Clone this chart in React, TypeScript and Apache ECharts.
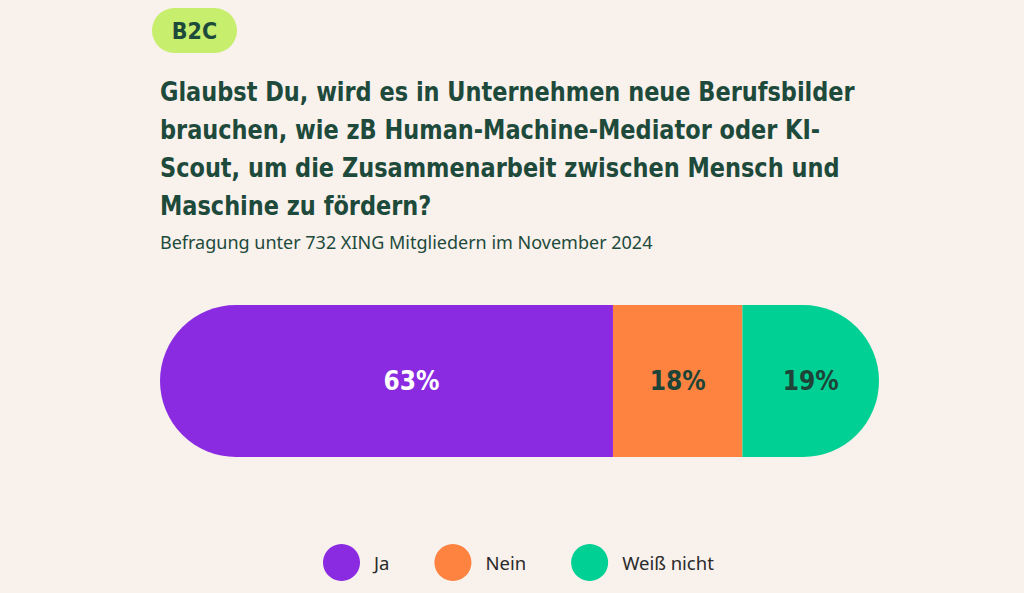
import React, { useEffect, useRef } from "react";
import * as echarts from "echarts";

const categories = ["Antwort"];
const seriesNames = ["Ja", "Nein", "Weiß nicht"];
const seriesValues = [63, 18, 19];
const seriesColors = ["#8a2be2", "#ff8340", "#00d094"];
const labelColors = ["#ffffff", "#1d4437", "#1d4437"];
const titleLines = [
  "Glaubst Du, wird es in Unternehmen neue Berufsbilder",
  "brauchen, wie zB Human-Machine-Mediator oder KI-",
  "Scout, um die Zusammenarbeit zwischen Mensch und",
  "Maschine zu fördern?",
];
const subtitle = "Befragung unter 732 XING Mitgliedern im November 2024";
const badge = "B2C";

const DARK = "#1d4a3b";
const TITLE_FONT = "'DejaVu Sans Condensed', 'DejaVu Sans', sans-serif";
const BODY_FONT = "'Noto Sans', 'Open Sans', sans-serif";

export default function App() {
  const ref = useRef<HTMLDivElement>(null);
  useEffect(() => {
    if (!ref.current) return;
    const chart = echarts.init(ref.current, null, { renderer: "svg" });
    const n = seriesValues.length;
    chart.setOption({
      animation: false,
      backgroundColor: "#f8f1ec",
      grid: { left: 160, right: 145, top: 305, height: 152 },
      xAxis: { type: "value", min: 0, max: 100, show: false },
      yAxis: { type: "category", data: categories, show: false },
      legend: {
        data: seriesNames,
        left: 318,
        top: 539,
        icon: "circle",
        itemWidth: 37,
        itemHeight: 37,
        itemGap: 45,
        textStyle: { fontFamily: BODY_FONT, fontSize: 18.5, color: "#2a2a2a", padding: [0, 0, 0, 9] },
      },
      series: seriesNames.map((name, i) => ({
        name,
        type: "bar",
        stack: "total",
        barWidth: 152,
        data: [seriesValues[i]],
        itemStyle: {
          color: seriesColors[i],
          borderRadius: i === 0 ? [76, 0, 0, 76] : i === n - 1 ? [0, 76, 76, 0] : 0,
        },
        label: {
          show: true,
          position: "inside",
          offset: i === 0 ? [25, 0] : [0, 0],
          formatter: "{c}%",
          color: labelColors[i],
          fontFamily: TITLE_FONT,
          fontWeight: "bold",
          fontSize: 26,
        },
      })),
      graphic: [
        {
          type: "rect",
          shape: { x: 152, y: 8, width: 85, height: 45, r: 22.5 },
          style: { fill: "#c8ee6e" },
        },
        {
          type: "text",
          x: 194.5,
          y: 31,
          style: {
            text: badge,
            fill: DARK,
            font: `bold 23px ${TITLE_FONT}`,
            align: "center",
            verticalAlign: "middle",
          },
        },
        {
          type: "group",
          x: 160,
          y: 73,
          scaleX: 0.96,
          scaleY: 1,
          children: [
            {
              type: "text",
              style: {
                text: titleLines.join("\n"),
                fill: DARK,
                font: `bold 26px ${TITLE_FONT}`,
                lineHeight: 38,
                align: "left",
                verticalAlign: "top",
              },
            },
          ],
        },
        {
          type: "text",
          x: 160,
          y: 242,
          style: {
            text: subtitle,
            fill: DARK,
            font: `18px ${BODY_FONT}`,
            align: "left",
            verticalAlign: "middle",
          },
        },
      ],
    });
    return () => chart.dispose();
  }, []);
  return (
    <div
      ref={ref}
      style={{ position: "fixed", left: 0, top: 0, width: 1024, height: 593 }}
    />
  );
}
